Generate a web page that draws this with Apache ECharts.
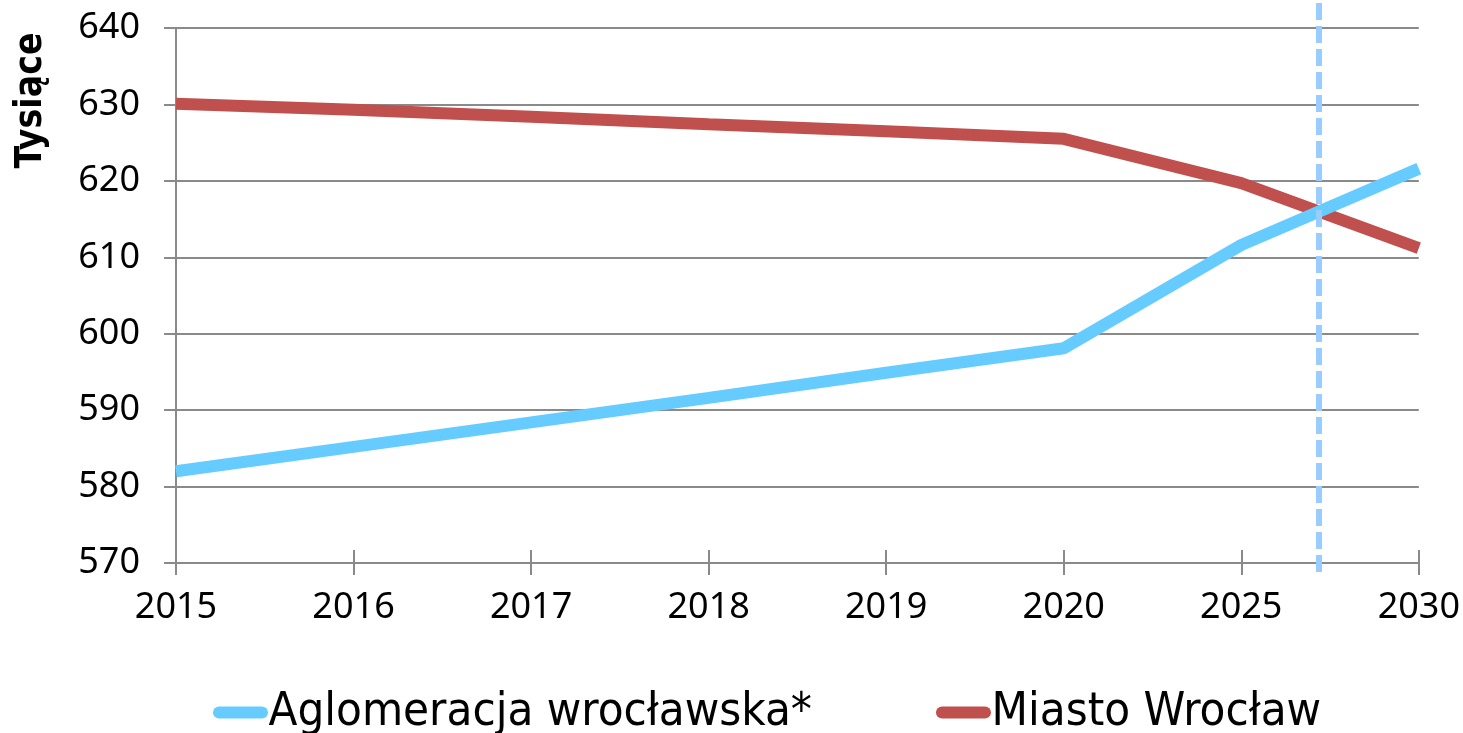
<!DOCTYPE html>
<html>
<head>
<meta charset="utf-8">
<script src="https://cdn.jsdelivr.net/npm/echarts@6/dist/echarts.min.js"></script>
<style>
  html, body { margin: 0; padding: 0; background: #fff; }
  #chart { width: 1463px; height: 733px; }
</style>
</head>
<body>
<div id="chart"></div>
<script>
// categories (not evenly spaced years - plotted as categories like the source)
const years = ['2015', '2016', '2017', '2018', '2019', '2020', '2025', '2030'];

// population, thousands
const aglomeracja = [582.0, 585.2, 588.4, 591.6, 594.9, 598.1, 611.6, 621.6];
const miasto = [630.1, 629.3, 628.4, 627.4, 626.5, 625.5, 619.7, 611.2];

// y axis range
const yMin = 570;
const yMax = 640;
const yStep = 10;

// dashed marker, in category-index units (between 2025 and 2030)
const markerX = 6.435;

const seriesNames = ['Aglomeracja wrocławska*', 'Miasto Wrocław'];
const colors = ['#66CCFF', '#C0504D'];

const GRAY = '#8A8A8A';
const legendIcon = 'path://M6,0 H49 A6,6 0 0 1 49,12 H6 A6,6 0 0 1 6,0 Z';

const chart = echarts.init(document.getElementById('chart'));

chart.setOption({
  animation: false,
  backgroundColor: '#fff',
  grid: [
    { left: 176, right: 43, top: 28, bottom: 170 },
    // taller overlay grid so the dashed marker runs past the plot edges
    { left: 176, right: 43, top: 2, bottom: 161 }
  ],
  legend: {
    data: seriesNames,
    top: 684,
    left: 208,
    icon: legendIcon,
    itemWidth: 58,
    itemHeight: 12,
    itemGap: 124,
    textStyle: {
      fontFamily: "'DejaVu Sans Condensed', 'DejaVu Sans', sans-serif",
      fontSize: 47,
      color: '#000',
      padding: [0, 0, 0, -6]
    }
  },
  xAxis: [
    {
      type: 'category',
      data: years,
      boundaryGap: false,
      axisLine: { lineStyle: { color: GRAY, width: 2 } },
      axisTick: { show: true, length: 12, lineStyle: { color: GRAY, width: 2 } },
      axisLabel: {
        color: '#000',
        fontFamily: "'Noto Sans', sans-serif",
        fontSize: 36,
        margin: 27
      },
      splitLine: { show: false }
    },
    {
      // hidden value axis: upper half of the crossing ticks
      type: 'value',
      position: 'bottom',
      min: 0,
      max: years.length - 1,
      interval: 1,
      axisLine: { show: false },
      axisTick: { show: true, inside: true, length: 13, lineStyle: { color: GRAY, width: 2 } },
      axisLabel: { show: false },
      splitLine: { show: false }
    },
    {
      // marker axis on the overlay grid
      type: 'value',
      gridIndex: 1,
      min: 0,
      max: years.length - 1,
      show: false
    }
  ],
  yAxis: [
    {
      type: 'value',
      min: yMin,
      max: yMax,
      interval: yStep,
      name: 'Tysiące',
      nameLocation: 'middle',
      nameGap: 126,
      nameTextStyle: {
        fontFamily: "'DejaVu Sans Condensed', 'DejaVu Sans', sans-serif",
        fontWeight: 'bold',
        fontSize: 37,
        color: '#000',
        padding: [0, 0, 0, 390]
      },
      axisLine: { show: true, lineStyle: { color: GRAY, width: 2 } },
      axisTick: { show: true, length: 12, lineStyle: { color: GRAY, width: 2 } },
      axisLabel: {
        color: '#000',
        fontFamily: "'Noto Sans', sans-serif",
        fontSize: 36,
        margin: 36
      },
      splitLine: { lineStyle: { color: GRAY, width: 2 } }
    },
    { type: 'value', gridIndex: 1, min: 0, max: 1, show: false }
  ],
  series: [
    {
      name: seriesNames[0],
      type: 'line',
      data: aglomeracja,
      color: colors[0],
      symbol: 'none',
      lineStyle: { width: 12, color: colors[0] },
      z: 3
    },
    {
      name: seriesNames[1],
      type: 'line',
      data: miasto,
      color: colors[1],
      symbol: 'none',
      lineStyle: { width: 12, color: colors[1] },
      z: 2
    },
    {
      type: 'line',
      xAxisIndex: 2,
      yAxisIndex: 1,
      data: [],
      silent: true,
      markLine: {
        silent: true,
        symbol: 'none',
        label: { show: false },
        lineStyle: { color: '#99CCFF', width: 6, type: [17, 6] },
        data: [{ xAxis: markerX }]
      },
      z: 4
    }
  ]
});
</script>
</body>
</html>
